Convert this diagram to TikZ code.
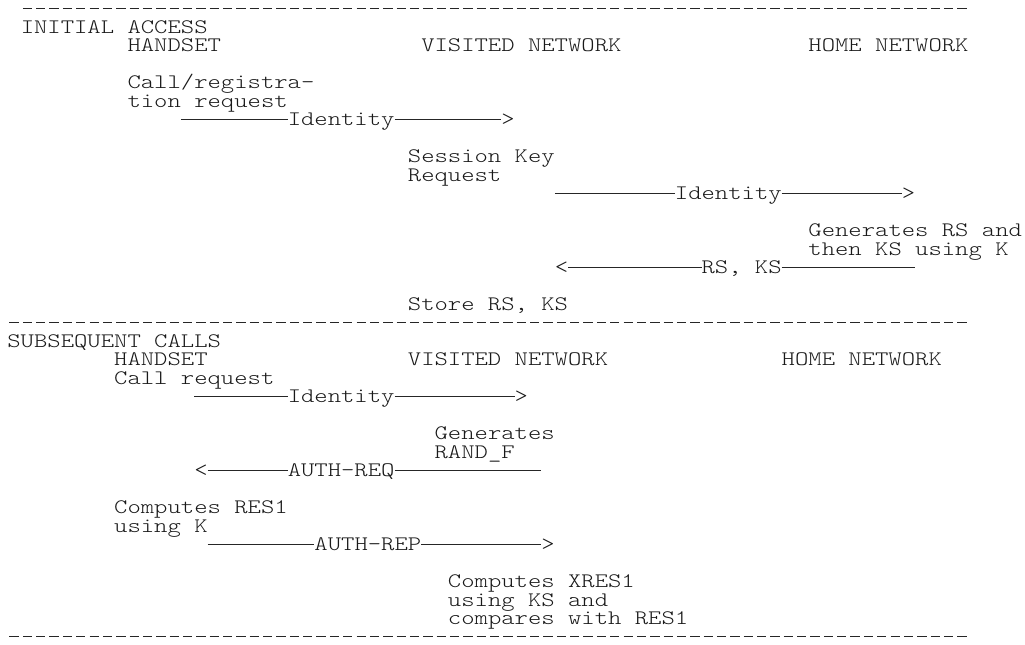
\documentclass[tikz,border=0pt]{standalone}
\usepackage{graphicx}
% character grid: cell width 13.35 units, line pitch 18.47 units
\newcommand\CX[1]{7.4+13.35*(#1)}
\newcommand\LY[1]{15+18.47*((#1)-1)}
\newcommand\MID{6.5}
\newcommand\sx[1]{\scalebox{1.2327}[1]{#1}}
\begin{document}
\begin{tikzpicture}[x=0.75pt,y=-0.75pt,
  lbl/.style={anchor=base west,inner sep=0pt,outer sep=0pt,text=black!90,
    font=\fontsize{15.47pt}{18pt}\ttfamily\fontseries{l}\selectfont},
  msg/.style={draw=black!85,line width=0.75pt},
  sep/.style={draw=black!85,line width=0.85pt,dash pattern=on 7pt off 3.0125pt}]
\useasboundingbox (0,0) rectangle (1025,644);

% ---------------- rules ----------------
\coordinate (r1a) at ({\CX{1}+2},{\LY{1}-\MID});
\coordinate (r1b) at ({\CX{72}-2},{\LY{1}-\MID});
\coordinate (r2a) at ({\CX{0}+2},{\LY{18}-\MID});
\coordinate (r2b) at ({\CX{72}-2},{\LY{18}-\MID});
\coordinate (r3a) at ({\CX{0}+2},{\LY{35}-\MID});
\coordinate (r3b) at ({\CX{72}-2},{\LY{35}-\MID});
\draw[sep] (r1a) -- (r1b);
\draw[sep] (r2a) -- (r2b);
\draw[sep] (r3a) -- (r3b);

% ---------------- initial access ----------------
\node[lbl] (ia)    at ({\CX{1}},{\LY{2}})  {\sx{INITIAL ACCESS}};
\node[lbl] (hs1)   at ({\CX{9}},{\LY{3}})  {\sx{HANDSET}};
\node[lbl] (vn1)   at ({\CX{31}},{\LY{3}}) {\sx{VISITED NETWORK}};
\node[lbl] (hn1)   at ({\CX{60}},{\LY{3}}) {\sx{HOME NETWORK}};
\node[lbl] (crq1)  at ({\CX{9}},{\LY{5}})  {\sx{Call/registra-}};
\node[lbl] (crq2)  at ({\CX{9}},{\LY{6}})  {\sx{tion request}};

% handset -> visited network
\coordinate (m1s) at ({\CX{13}},{\LY{7}-\MID});
\node[lbl] (m1)  at ({\CX{21}},{\LY{7}}) {\sx{Identity}};
\node[lbl] (m1h) at ({\CX{37}},{\LY{7}}) {\sx{>}};
\draw[msg] (m1s) -- (m1s -| m1.west) (m1.east |- m1s) -- (m1h.west |- m1s);

\node[lbl] (skr1) at ({\CX{30}},{\LY{9}})  {\sx{Session Key}};
\node[lbl] (skr2) at ({\CX{30}},{\LY{10}}) {\sx{Request}};

% visited network -> home network
\coordinate (m2s) at ({\CX{41}},{\LY{11}-\MID});
\node[lbl] (m2)  at ({\CX{50}},{\LY{11}}) {\sx{Identity}};
\node[lbl] (m2h) at ({\CX{67}},{\LY{11}}) {\sx{>}};
\draw[msg] (m2s) -- (m2s -| m2.west) (m2.east |- m2s) -- (m2h.west |- m2s);

\node[lbl] (gen1) at ({\CX{60}},{\LY{13}}) {\sx{Generates RS and}};
\node[lbl] (gen2) at ({\CX{60}},{\LY{14}}) {\sx{then KS using K}};

% home network -> visited network
\node[lbl] (m3h) at ({\CX{41}},{\LY{15}}) {\sx{<}};
\node[lbl] (m3)  at ({\CX{52}},{\LY{15}}) {\sx{RS, KS}};
\coordinate (m3e) at ({\CX{68}},{\LY{15}-\MID});
\draw[msg] (m3h.east |- m3e) -- (m3e -| m3.west) (m3.east |- m3e) -- (m3e);

\node[lbl] (sto) at ({\CX{30}},{\LY{17}}) {\sx{Store RS, KS}};

% ---------------- subsequent calls ----------------
\node[lbl] (sc)   at ({\CX{0}},{\LY{19}})  {\sx{SUBSEQUENT CALLS}};
\node[lbl] (hs2)  at ({\CX{8}},{\LY{20}})  {\sx{HANDSET}};
\node[lbl] (vn2)  at ({\CX{30}},{\LY{20}}) {\sx{VISITED NETWORK}};
\node[lbl] (hn2)  at ({\CX{58}},{\LY{20}}) {\sx{HOME NETWORK}};
\node[lbl] (crq3) at ({\CX{8}},{\LY{21}})  {\sx{Call request}};

% handset -> visited network
\coordinate (m4s) at ({\CX{14}},{\LY{22}-\MID});
\node[lbl] (m4)  at ({\CX{21}},{\LY{22}}) {\sx{Identity}};
\node[lbl] (m4h) at ({\CX{38}},{\LY{22}}) {\sx{>}};
\draw[msg] (m4s) -- (m4s -| m4.west) (m4.east |- m4s) -- (m4h.west |- m4s);

\node[lbl] (rnd1) at ({\CX{32}},{\LY{24}}) {\sx{Generates}};
\node[lbl] (rnd2) at ({\CX{32}},{\LY{25}}) {\sx{RAND\_F}};

% visited network -> handset
\node[lbl] (m5h) at ({\CX{14}},{\LY{26}}) {\sx{<}};
\node[lbl] (m5)  at ({\CX{21}},{\LY{26}}) {\sx{AUTH-REQ}};
\coordinate (m5e) at ({\CX{40}},{\LY{26}-\MID});
\draw[msg] (m5h.east |- m5e) -- (m5e -| m5.west) (m5.east |- m5e) -- (m5e);

\node[lbl] (res1) at ({\CX{8}},{\LY{28}}) {\sx{Computes RES1}};
\node[lbl] (res2) at ({\CX{8}},{\LY{29}}) {\sx{using K}};

% handset -> visited network
\coordinate (m6s) at ({\CX{15}},{\LY{30}-\MID});
\node[lbl] (m6)  at ({\CX{23}},{\LY{30}}) {\sx{AUTH-REP}};
\node[lbl] (m6h) at ({\CX{40}},{\LY{30}}) {\sx{>}};
\draw[msg] (m6s) -- (m6s -| m6.west) (m6.east |- m6s) -- (m6h.west |- m6s);

\node[lbl] (xr1) at ({\CX{33}},{\LY{32}}) {\sx{Computes XRES1}};
\node[lbl] (xr2) at ({\CX{33}},{\LY{33}}) {\sx{using KS and}};
\node[lbl] (xr3) at ({\CX{33}},{\LY{34}}) {\sx{compares with RES1}};
\end{tikzpicture}
\end{document}
